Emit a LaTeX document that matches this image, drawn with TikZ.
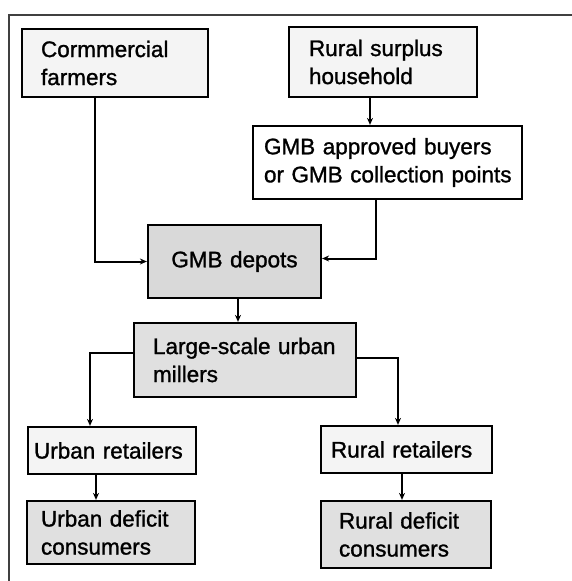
\documentclass[tikz,border=0pt]{standalone}
\usepackage{fontspec}
\setmainfont{Liberation Sans}[UprightFeatures={FakeBold=1.2}]
\usetikzlibrary{arrows.meta}
\tikzset{
  box/.style={draw=black, line width=2.2pt, rectangle, align=left,
    font=\fontsize{22.5}{28}\selectfont, inner ysep=0pt},
  light/.style={box, fill=gray!9},
  dark/.style={box, fill=gray!24},
  white/.style={box, fill=white},
  conn/.style={line width=2pt, -{Stealth[length=7pt,width=6pt]}},
  frame/.style={line width=1.8pt, draw=black!75}
}
\begin{document}
\begin{tikzpicture}[x=1pt,y=-1pt]
\useasboundingbox (0,0) rectangle (572,581);
\draw[frame] (9,581) -- (9,15) -- (572,15);

\node[light, minimum width=180pt, minimum height=68pt, text width=148pt, inner xsep=19pt] (cf) at (115,63) {\mbox{Cormmercial}\\\mbox{farmers}};
\node[light, minimum width=180pt, minimum height=70pt, text width=148pt, inner xsep=20pt] (rs) at (383,62) {\mbox{Rural surplus}\\\mbox{household}};
\node[white, minimum width=267pt, minimum height=73pt, text width=247pt, inner xsep=11pt] (ab) at (387.5,162.5) {\mbox{GMB approved buyers}\\\mbox{or GMB collection points}};
\node[dark, fill=gray!30, minimum width=173pt, minimum height=73pt, text width=153pt, inner xsep=10pt, align=center] (dep) at (234.5,261.5) {\mbox{GMB depots}};
\node[dark, minimum width=216pt, minimum height=74pt, text width=184pt, inner xsep=19pt] (mil) at (245,360) {\mbox{Large-scale urban}\\\mbox{millers}};
\node[light, minimum width=166pt, minimum height=47pt, text width=156pt, inner xsep=6pt] (ur) at (112,450.5) {\mbox{Urban retailers}};
\node[light, minimum width=165pt, minimum height=47pt, text width=151pt, inner xsep=10pt] (rr) at (406.5,449.5) {\mbox{Rural retailers}};
\node[dark, minimum width=164pt, minimum height=63pt, text width=140pt, inner xsep=14pt] (ud) at (111,532.5) {\mbox{Urban deficit}\\\mbox{consumers}};
\node[dark, minimum width=162pt, minimum height=67pt, text width=134pt, inner xsep=18pt] (rd) at (406,534.5) {\mbox{Rural deficit}\\\mbox{consumers}};

\draw[conn] ([xshift=-20pt]cf.south) |- (dep.west);
\draw[conn] ([xshift=-13pt]rs.south) -- ([xshift=-13pt]rs.south |- ab.north);
\draw[conn] ([xshift=-11.5pt]ab.south) |- ([yshift=3pt]dep.east);
\draw[conn] ([xshift=3.5pt]dep.south) -- ([xshift=3.5pt]dep.south |- mil.north);
\draw[conn] ([yshift=7pt]mil.west) -| ([xshift=-22pt]ur.north);
\draw[conn] ([yshift=2pt]mil.east) -| ([xshift=-8.5pt]rr.north);
\draw[conn] ([xshift=-16pt]ur.south) -- ([xshift=-16pt]ur.south |- ud.north);
\draw[conn] ([xshift=-4.5pt]rr.south) -- ([xshift=-4.5pt]rr.south |- rd.north);
\end{tikzpicture}
\end{document}
